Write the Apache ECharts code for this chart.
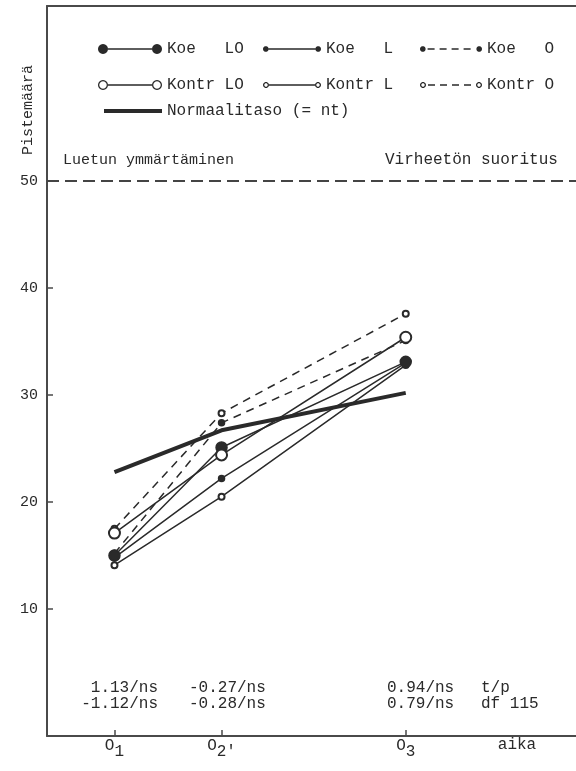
<!DOCTYPE html>
<html><head><meta charset="utf-8">
<script src="https://cdn.jsdelivr.net/npm/echarts@6/dist/echarts.min.js"></script>
<style>html,body{margin:0;padding:0;background:#fff}#c{width:576px;height:771px}</style>
</head><body><div id="c"></div>
<script>
// ---- data ----
const timePoints = [1, 2, 3.72];          // O1, O2', O3 (measurement occasions)
const timeSubs = ['1', '2\u2032', '3'];
const koeLO   = [15.0, 25.1, 33.1];
const koeL    = [14.8, 22.2, 33.0];
const koeO    = [15.2, 27.4, 35.1];
const kontrLO = [17.1, 24.4, 35.4];
const kontrL  = [14.1, 20.5, 32.8];
const kontrO  = [17.5, 28.3, 37.6];
const normaalitaso = [22.8, 26.7, 30.2];
const yTicks = [10, 20, 30, 40, 50];
const refLevel = 50;
const tRow  = ['1.13/ns', '-0.27/ns', '0.94/ns', 't/p'];
const dfRow = ['-1.12/ns', '-0.28/ns', '0.79/ns', 'df 115'];

const FONT = '"Liberation Mono", "DejaVu Sans Mono", monospace';
const INK = '#2a2a2a';
const AX = '#4a4a4a';

function pairs(vals){ return timePoints.map((t,i)=>[t, vals[i]]); }

// ---- legend icon paths ----
function disc(cx, cy, r, reverse){
  const n = 24; let pts = [];
  for (let i=0;i<n;i++){ const a = (reverse?-1:1)*2*Math.PI*i/n; pts.push([cx + r*Math.cos(a), cy + r*Math.sin(a)]); }
  return 'M' + pts.map(p=>p[0].toFixed(2)+','+p[1].toFixed(2)).join('L') + 'Z';
}
function ring(cx, cy, ro, ri){ return disc(cx,cy,ro,false) + disc(cx,cy,ri,true); }
function rect(x0, x1, cy, th){ return `M${x0},${cy-th/2}L${x1},${cy-th/2}L${x1},${cy+th/2}L${x0},${cy+th/2}Z`; }
function dashes(x0, x1, cy, th, d, g){ let s=''; for (let x=x0+2; x<x1-1; x+=d+g){ s += rect(x, Math.min(x+d, x1-1), cy, th); } return s; }
const IH = 14, CY = 7;
function icon(W, kind, r, dashed){
  let s = '';
  const c1 = r, c2 = W - r;
  if (kind === 'fill') s += disc(c1, CY, r) + disc(c2, CY, r);
  else s += ring(c1, CY, r, r-1.3) + ring(c2, CY, r, r-1.3);
  s += dashed ? dashes(c1 + r, c2 - r, CY, 1.4, 7, 5) : rect(c1 + r, c2 - r, CY, 1.4);
  return 'path://' + s;
}
function lineIcon(W){ return 'path://' + rect(0, W, CY, 4) + 'M0,0L0,0M0,14L0,14'; }

const legendText = { fontFamily: FONT, fontSize: 16, color: INK, lineHeight: 14 };
const legItem = (name, ic) => ({ name, icon: ic, itemStyle: { color: INK, borderWidth: 0, borderColor: 'transparent' } });
function legend(left, top, W, items){
  return { orient: 'vertical', left, top, itemWidth: W, itemHeight: IH, itemGap: 20, padding: 5,
    selectedMode: false, textStyle: legendText, data: items };
}

const N = { koeLO: 'Koe   LO', koeL: 'Koe   L', koeO: 'Koe   O', kontrLO: 'Kontr LO', kontrL: 'Kontr L', kontrO: 'Kontr O', nt: 'Normaalitaso (= nt)' };

function lineSeries(name, vals, sym, size, dashed){
  return { name, type: 'line', data: pairs(vals), symbol: sym, symbolSize: size, z: 3,
    lineStyle: { color: INK, width: 1.5, type: dashed ? [8, 6] : 'solid' },
    itemStyle: { color: INK, borderColor: INK, borderWidth: 1.5 }, emphasis: { disabled: true } };
}

const chart = echarts.init(document.getElementById('c'), null, { renderer: 'canvas' });
const txt = (x, y, text, align, size) => ({ type: 'text', x, y, silent: true,
  style: { text, fill: INK, font: (size || 16) + 'px ' + FONT, textAlign: align || 'left', textVerticalAlign: 'middle' } });

chart.setOption({
  animation: false,
  backgroundColor: '#fff',
  grid: { left: 47, right: -10, top: 6, bottom: 35, containLabel: false },
  xAxis: [{
    type: 'value', min: 0.37, max: 5.31,
    axisLine: { show: true, onZero: false, lineStyle: { color: AX, width: 2 } },
    axisTick: { show: true, inside: true, length: 6, customValues: timePoints, lineStyle: { color: AX, width: 1.5 } },
    axisLabel: { show: true, margin: 2, customValues: timePoints,
      formatter: v => { const i = timePoints.findIndex(t => Math.abs(t - v) < 1e-6); return '{o|O}{s|' + (i >= 0 ? timeSubs[i] : '') + '}'; },
      rich: { o: { fontFamily: FONT, fontSize: 16, color: INK, lineHeight: 16, verticalAlign: 'top' },
              s: { fontFamily: FONT, fontSize: 16, color: INK, lineHeight: 16, padding: [12, 0, 0, 0] } } },
    splitLine: { show: false }
  }, {
    type: 'value', position: 'top', min: 0.37, max: 5.31,
    axisLine: { show: true, onZero: false, lineStyle: { color: AX, width: 2 } },
    axisTick: { show: false }, axisLabel: { show: false }, splitLine: { show: false }
  }],
  yAxis: {
    type: 'value', min: -1.87, max: 66.36,
    axisLine: { show: true, onZero: false, lineStyle: { color: AX, width: 2 } },
    axisTick: { show: true, inside: true, length: 6, customValues: yTicks, lineStyle: { color: AX, width: 1.5 } },
    axisLabel: { show: true, margin: 9, customValues: yTicks, fontFamily: FONT, fontSize: 15, color: INK },
    splitLine: { show: false }
  },
  legend: [
    legend(93, 36, 64, [legItem(N.koeLO, icon(64, 'fill', 5, false)), legItem(N.kontrLO, icon(64, 'ring', 5, false))]),
    legend(258, 36, 58, [legItem(N.koeL, icon(58, 'fill', 2.8, false)), legItem(N.kontrL, icon(58, 'ring', 3, false))]),
    legend(415, 36, 62, [legItem(N.koeO, icon(62, 'fill', 2.8, true)), legItem(N.kontrO, icon(62, 'ring', 3, true))]),
    legend(99, 98, 58, [legItem(N.nt, lineIcon(58))])
  ],
  series: [
    { name: N.nt, type: 'line', data: pairs(normaalitaso), symbol: 'none', z: 2,
      lineStyle: { color: INK, width: 4 }, itemStyle: { color: INK }, emphasis: { disabled: true },
      markLine: { silent: true, symbol: 'none', label: { show: false },
        lineStyle: { type: [12, 6], width: 2, color: '#444' }, data: [{ yAxis: refLevel }] } },
    lineSeries(N.koeL, koeL, 'circle', 6, false),
    lineSeries(N.kontrL, kontrL, 'emptyCircle', 6, false),
    lineSeries(N.koeO, koeO, 'circle', 6, true),
    lineSeries(N.kontrO, kontrO, 'emptyCircle', 6, true),
    lineSeries(N.koeLO, koeLO, 'circle', 11, false),
    lineSeries(N.kontrLO, kontrLO, 'emptyCircle', 11, false)
  ],
  graphic: [
    { type: 'text', x: 28, y: 110, rotation: Math.PI / 2, silent: true,
      style: { text: 'Pistemäärä', fill: INK, font: '15px ' + FONT, textAlign: 'center', textVerticalAlign: 'middle' } },
    txt(63, 160, 'Luetun ymmärtäminen', 'left', 15),
    txt(385, 160, 'Virheetön suoritus'),
    txt(517, 745, 'aika', 'center'),
    txt(158, 688, tRow[0], 'right'), txt(189, 688, tRow[1]), txt(387, 688, tRow[2]), txt(481, 688, tRow[3]),
    txt(158, 704, dfRow[0], 'right'), txt(189, 704, dfRow[1]), txt(387, 704, dfRow[2]), txt(481, 704, dfRow[3])
  ]
});
</script></body></html>
